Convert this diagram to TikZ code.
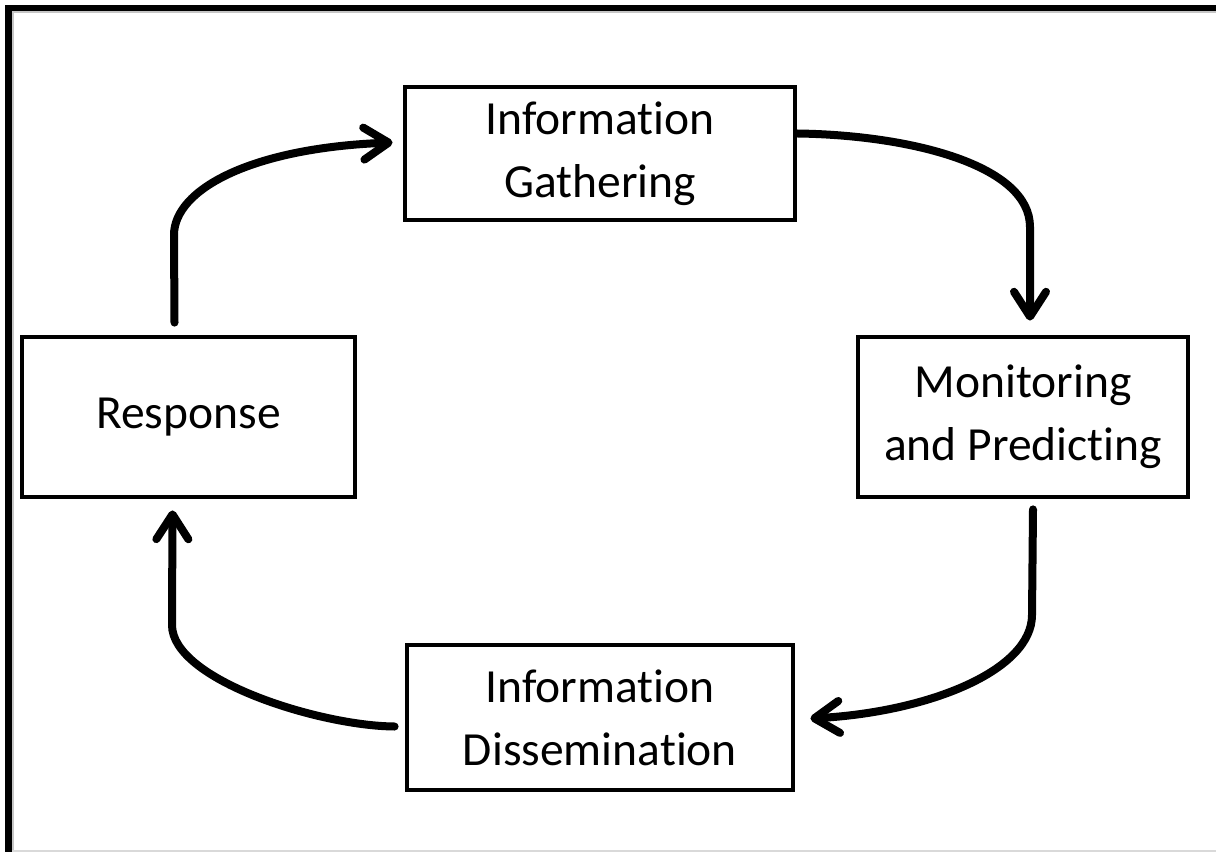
\documentclass[tikz,border=0pt]{standalone}
\usepackage{fontspec}
\setmainfont{Carlito}[Ligatures=NoCommon]
\usepackage{tikz}
\usetikzlibrary{arrows.meta,calc}
\tikzset{
  stagebox/.style={
    rectangle, draw=black, line width=0.12cm,
    align=center, inner sep=0pt,
    font=\fontsize{33.8}{44.8}\selectfont
  },
  cyclearrow/.style={
    line width=0.2cm, line cap=round,
    -{Straight Barb[length=0.62cm, width=0.8cm, round]}
  },
}

\begin{document}
\begin{tikzpicture}[x=0.025cm, y=-0.025cm]

\useasboundingbox (0,0) rectangle (1216,852);

%% ── Frame ────────────────────────────────────────────────────────────────
\draw[gray!45, line width=0.05cm] (12.5,852) -- (12.5,12.5) -- (1216,12.5);
\draw[gray!30, line width=0.05cm] (12,850.5) -- (1216,850.5);
\draw[black, line width=0.15cm] (8.5,860) -- (8.5,8.5) -- (1220,8.5);

%% ── Stage boxes ──────────────────────────────────────────────────────────
\node[stagebox, minimum width=390*0.025cm, minimum height=133*0.025cm]
  (gather) at (600,153.5) {Information\\Gathering};
\node[stagebox, minimum width=330*0.025cm, minimum height=160*0.025cm]
  (monitor) at (1023,417) {Monitoring\\and Predicting};
\node[stagebox, minimum width=386*0.025cm, minimum height=145*0.025cm]
  (dissem) at (600,717.5) {Information\\Dissemination};
\node[stagebox, minimum width=333*0.025cm, minimum height=160*0.025cm]
  (response) at (188.5,417) {Response};

%% ── Cycle arrows ─────────────────────────────────────────────────────────
\draw[cyclearrow] ($(response.north)+(-14,-12)$) -- (174,235)
  .. controls (174,190) and (250,148) .. ($(gather.west)+(-10,-11)$);
\draw[cyclearrow] ($(gather.east)+(0,-20)$)
  .. controls (910,135) and (1030,165) .. (1030,227)
  -- ($(monitor.north)+(7,-14)$);
\draw[cyclearrow] ($(monitor.south)+(10,10)$) -- (1032,615)
  .. controls (1032,670) and (930,712) .. ($(dissem.east)+(15,1)$);
\draw[cyclearrow] ($(dissem.west)+(-10,9)$)
  .. controls (320,726) and (172,680) .. (172,625)
  -- ($(response.south)+(-16,11)$);

\end{tikzpicture}
\end{document}
